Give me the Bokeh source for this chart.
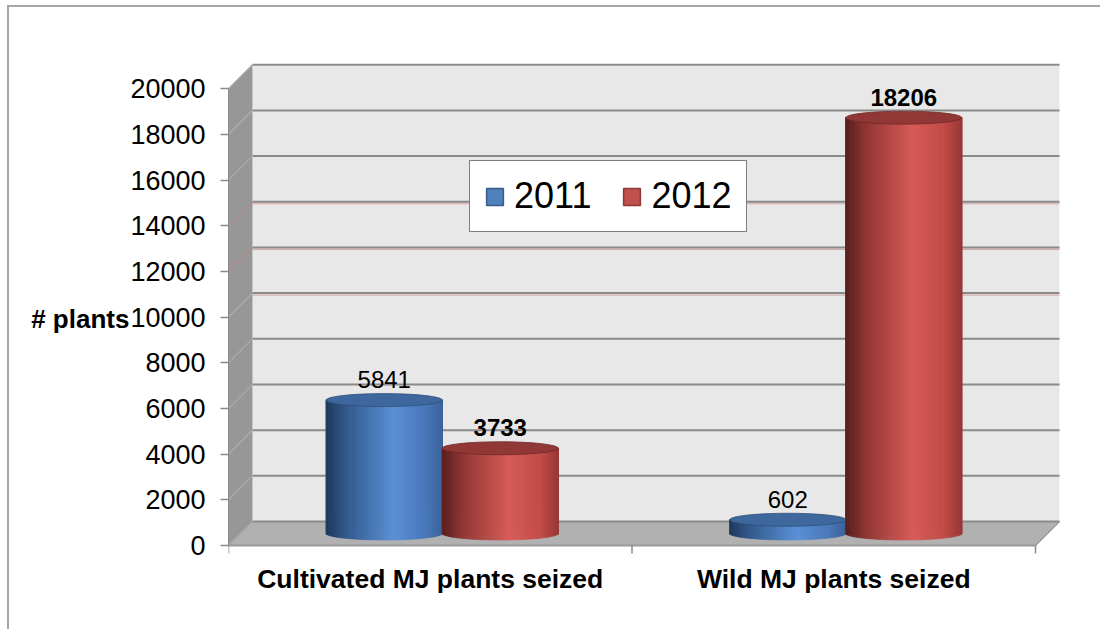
import numpy as np
from bokeh.plotting import figure
from bokeh.models import FixedTicker, Range1d, Legend, LegendItem
from bokeh.core.properties import value
from bokeh.embed import file_html
from bokeh.resources import INLINE

# ---------------- data ----------------
categories = ["Cultivated MJ plants seized", "Wild MJ plants seized"]
years = ["2011", "2012"]
values_2011 = [5841, 602]
values_2012 = [3733, 18206]
y_ticks = [0, 2000, 4000, 6000, 8000, 10000, 12000, 14000, 16000, 18000, 20000]
y_label = "# plants"

# ---------------- layout / style ----------------
FONT = "Liberation Sans"
W, H = 1093, 624
ML, MR, MT, MB = 219, 32, 48, 71
fw = W - ML - MR
fh = H - MT - MB
PX_X = 403.5          # pixels per category band
PX_Y = 0.02284        # pixels per plant
x_start = 0.0
x_end = fw / PX_X
y_start = -15 / PX_Y
y_end = y_start + fh / PX_Y

DX = 24 / PX_X        # 3d depth in x units
DY = 24 / PX_Y        # 3d depth in y units
BW = 116 / PX_X       # cylinder diameter
EH = 13 / PX_Y        # ellipse height
YMAX = y_ticks[-1]
ncat = len(categories)

p = figure(width=W, height=H, output_backend="svg", toolbar_location=None,
           x_range=Range1d(x_start, x_end), y_range=Range1d(y_start, y_end),
           min_border_left=ML, min_border_right=MR, min_border_top=MT,
           min_border_bottom=MB, background_fill_color="white",
           border_fill_color="white", outline_line_color=None,
           styles={"margin-left": "7px", "margin-top": "5px",
                   "border-left": "2px solid #a6a6a6", "border-top": "2px solid #a6a6a6"})
p.grid.visible = False

# back wall
p.quad(left=[DX], right=[ncat + DX], bottom=[DY], top=[YMAX + DY],
       fill_color="#e8e8e8", line_color=None)
# side wall
p.patch(x=[0, DX, DX, 0], y=[0, DY, YMAX + DY, YMAX], fill_color="#979797",
        line_color=None)
# floor
p.patch(x=[0, ncat, ncat + DX, DX], y=[0, 0, DY, DY], fill_color="#b1b1b1",
        line_color=None)

# gridlines on wall and side
gy = np.array(y_ticks, dtype=float)
p.segment(x0=[DX] * len(gy), y0=gy + DY, x1=[ncat + DX] * len(gy), y1=gy + DY,
          line_color="#8a8a8a", line_width=2)
p.segment(x0=[0] * len(gy), y0=gy, x1=[DX] * len(gy), y1=gy + DY,
          line_color="#a9a9a9", line_width=1.5)
# faint reddish tint under some gridlines
tint = np.array([10000, 12000, 14000], dtype=float)
p.segment(x0=[DX] * len(tint), y0=tint + DY - 2 / PX_Y, x1=[ncat + DX] * len(tint),
          y1=tint + DY - 2 / PX_Y, line_color="#c0504d", line_width=1, line_alpha=0.45)
tint2 = np.array([12000, 14000], dtype=float)
p.segment(x0=[0] * len(tint2), y0=tint2, x1=[DX] * len(tint2), y1=tint2 + DY,
          line_color="#c0504d", line_width=1, line_alpha=0.6)

# floor front edge / x axis line and ticks
p.segment(x0=[0], y0=[0], x1=[ncat], y1=[0], line_color="#9a9a9a", line_width=2)
p.segment(x0=[ncat], y0=[0], x1=[ncat + DX], y1=[DY], line_color="#9a9a9a", line_width=1.5)
bt = np.arange(ncat + 1, dtype=float)
p.segment(x0=bt, y0=[0] * len(bt), x1=bt, y1=[-8 / PX_Y] * len(bt),
          line_color="#8a8a8a", line_width=1.5)

# ---------------- cylinders ----------------
def hex2rgb(h):
    h = h.lstrip("#")
    return np.array([int(h[i:i + 2], 16) for i in (0, 2, 4)], dtype=float)

def grad(stops, t):
    ts = [s[0] for s in stops]
    cols = [hex2rgb(s[1]) for s in stops]
    out = []
    for tt in t:
        c = np.array([np.interp(tt, ts, [cc[k] for cc in cols]) for k in range(3)])
        out.append("#%02x%02x%02x" % tuple(int(round(v)) for v in c))
    return out

blue_stops = [(0, "#1e375a"), (0.18, "#335a8e"), (0.58, "#5b90d6"), (0.85, "#4a79ba"), (1, "#3b649c")]
red_stops = [(0, "#561e1e"), (0.18, "#923635"), (0.58, "#d75d58"), (0.85, "#c24c48"), (1, "#983835")]
series = [
    (values_2011, blue_stops, "#3e679d", "#2f5078", "#4f81bd", "#385d8a", -1, "normal"),
    (values_2012, red_stops, "#913836", "#6e2826", "#c0504d", "#8c3836", 1, "bold"),
]
N = 60
te = np.linspace(0, 1, N + 1)
tm = (te[:-1] + te[1:]) / 2
legend_renderers = []
for vals, stops, topc, topl, basec, basel, side, fstyle in series:
    cols = grad(stops, tm)
    xcs = [i + 0.5 + DX / 2 + side * BW / 2 for i in range(len(vals))]
    # flat base bars (hidden beneath the shaded cylinder strips; used for the legend swatch)
    base = p.vbar(x=xcs, bottom=DY / 2, top=[v + DY / 2 for v in vals], width=BW,
                  fill_color=basec, line_color=basel, line_width=1.5)
    legend_renderers.append(base)
    for xc, v in zip(xcs, vals):
        left = xc - BW / 2 + te[:-1] * BW
        right = xc - BW / 2 + te[1:] * BW
        u = 2 * tm - 1
        bottom = DY / 2 - EH / 2 * np.sqrt(1 - u ** 2)
        top = np.full(N, v + DY / 2)
        p.quad(left=left, right=right, bottom=bottom, top=top,
               fill_color=cols, line_color=cols, line_width=0.6)
        p.ellipse(x=[xc], y=[v + DY / 2], width=BW, height=EH,
                  fill_color=topc, line_color=topl, line_width=0.8)
        p.text(x=[xc], y=[v + DY / 2 + 20.5 / PX_Y], text=[str(v)],
               text_align="center", text_baseline="alphabetic",
               text_font=value(FONT), text_font_size="24px",
               text_font_style=fstyle, text_color="black")

# ---------------- axes ----------------
ya = p.yaxis[0]
ya.ticker = FixedTicker(ticks=y_ticks)
ya.bounds = (0, YMAX)
ya.axis_line_color = "#8a8a8a"
ya.axis_line_width = 1
ya.major_tick_out = 8
ya.major_tick_in = 0
ya.minor_tick_line_color = None
ya.major_tick_line_color = "#8a8a8a"
ya.major_tick_line_width = 1.5
ya.major_label_standoff = 15
ya.major_label_text_font = FONT
ya.major_label_text_font_size = "27px"
ya.major_label_text_color = "black"
# leading empty line pushes the horizontal label down to the 10000 tick level
ya.axis_label = "\n" + y_label
ya.axis_label_orientation = "horizontal"
ya.axis_label_standoff = -2
ya.axis_label_text_line_height = 0.7
ya.axis_label_text_font = FONT
ya.axis_label_text_font_size = "26px"
ya.axis_label_text_font_style = "bold"
ya.axis_label_text_color = "black"

xa = p.xaxis[0]
xa.ticker = FixedTicker(ticks=[i + 0.5 for i in range(ncat)])
xa.major_label_overrides = {i + 0.5: c for i, c in enumerate(categories)}
xa.axis_line_color = None
xa.major_tick_line_color = None
xa.minor_tick_line_color = None
xa.major_tick_out = 0
xa.major_tick_in = 0
xa.major_label_standoff = 3
xa.major_label_text_font = FONT
xa.major_label_text_font_size = "26.5px"
xa.major_label_text_font_style = "bold"
xa.major_label_text_color = "black"

# ---------------- legend ----------------
legend = Legend(items=[LegendItem(label=years[0], renderers=[legend_renderers[0]]),
                       LegendItem(label=years[1], renderers=[legend_renderers[1]])],
                location=(241, 328), orientation="horizontal",
                label_text_font=FONT, label_text_font_size="36px",
                label_text_color="black", glyph_width=21, glyph_height=21,
                padding=14, spacing=30, label_standoff=9, margin=0,
                border_line_color="black", border_line_width=1.5,
                background_fill_color="white", background_fill_alpha=1)
p.add_layout(legend)

open("out.html", "w").write(file_html(p, INLINE))
